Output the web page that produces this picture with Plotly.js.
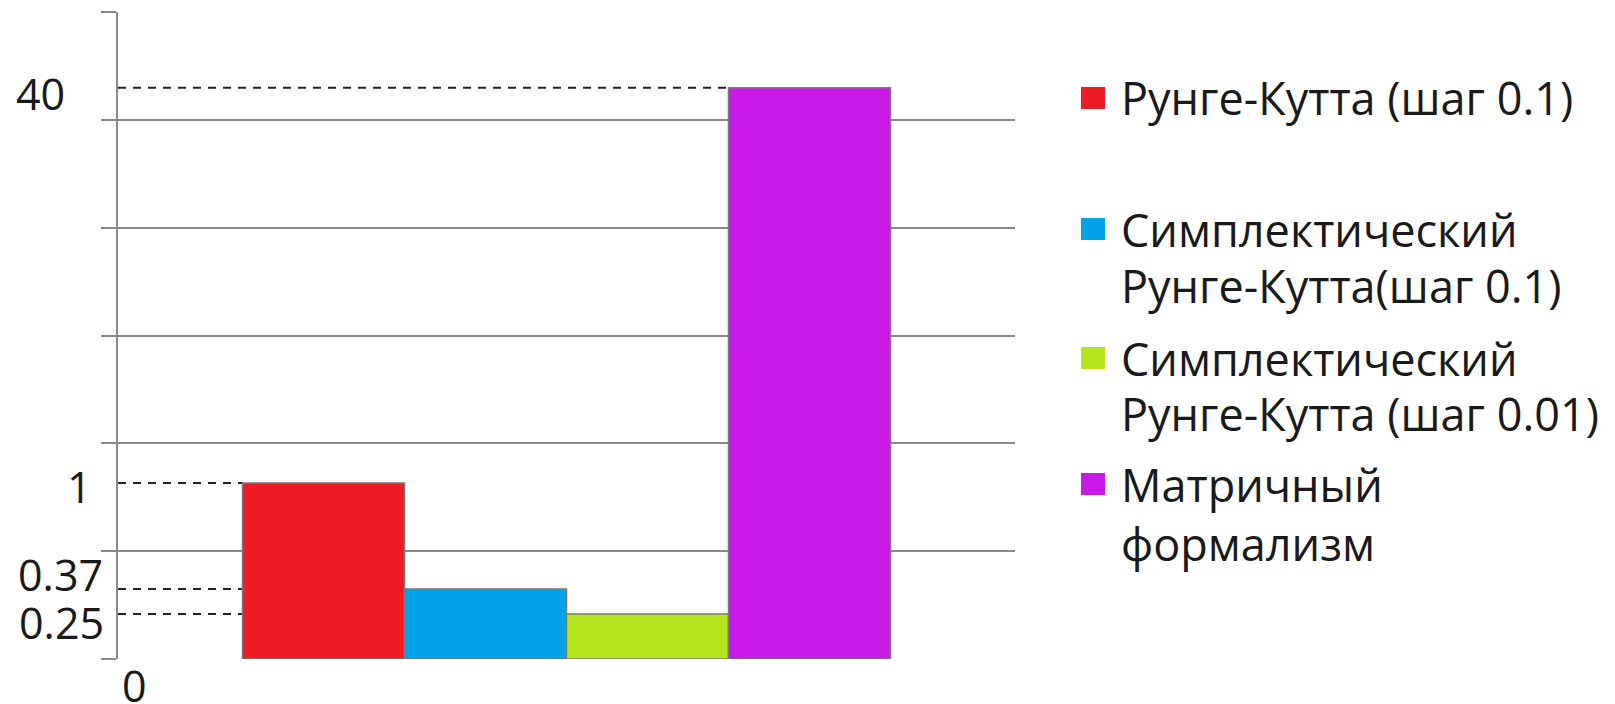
<!DOCTYPE html>
<html>
<head>
<meta charset="utf-8">
<script src="https://cdn.plot.ly/plotly-3.0.1.min.js"></script>
<style>html,body{margin:0;padding:0;background:#fff;}#chart{width:1615px;height:704px;}</style>
</head>
<body>
<div id="chart"></div>
<script>
// ---- data ----
const seriesNames = [
  ["Рунге-Кутта (шаг 0.1)"],
  ["Симплектический", "Рунге-Кутта(шаг 0.1)"],
  ["Симплектический", "Рунге-Кутта (шаг 0.01)"],
  ["Матричный", "формализм"]
];
const seriesValues = [1, 0.37, 0.25, 40];
const seriesColors = ["#ED1C24", "#00A2E8", "#B5E61D", "#C918E8"];
const tickLabels = ["0", "0.25", "0.37", "1", "40"];
const tickValues = [0, 0.25, 0.37, 1, 40];
// broken (non-linear) value axis: height (in gridline units) of each labelled value
const tickLevels = [0, 0.417, 0.649, 1.633, 5.297];

function toLevel(v) {
  for (let i = 1; i < tickValues.length; i++) {
    if (v <= tickValues[i]) {
      const t = (v - tickValues[i - 1]) / (tickValues[i] - tickValues[i - 1]);
      return tickLevels[i - 1] + t * (tickLevels[i] - tickLevels[i - 1]);
    }
  }
  return tickLevels[tickLevels.length - 1];
}

// ---- layout constants ----
const W = 1615, H = 704;
const L = 118, R = 1015, T = 12, B = 659;
const pw = R - L, ph = B - T;
const xRange = [-0.5, 0.5];
const bargap = 0.2776;
const barW = (1 - bargap) / seriesValues.length;
const fontFam = "'Open Sans', 'Noto Sans', sans-serif";
const textColor = "#1a1a1a";
const gridColor = "#8a8a8a";

const traces = seriesValues.map((v, i) => ({
  type: "bar",
  name: seriesNames[i].join(" "),
  x: [0],
  y: [toLevel(v)],
  customdata: [v],
  hovertemplate: "%{customdata}<extra></extra>",
  marker: { color: seriesColors[i], line: { color: "#7a7a7a", width: 1.5 } },
  showlegend: false
}));

// dashed guides from axis to the left edge of each bar
const groupLeft = -(1 - bargap) / 2;
const shapes = seriesValues.map((v, i) => ({
  type: "line", layer: "below",
  xref: "x", yref: "y",
  x0: xRange[0], x1: groupLeft + i * barW,
  y0: toLevel(v), y1: toLevel(v),
  line: { color: "#222", width: 2, dash: "8px,7px" }
}));

// tick labels (placed by hand in the original)
const labelOffsets = {
  "0":    { xanchor: "center", xshift: 16,  yshift: -26 },
  "0.25": { xanchor: "right",  xshift: -12, yshift: -8 },
  "0.37": { xanchor: "right",  xshift: -13, yshift: 15 },
  "1":    { xanchor: "right",  xshift: -24, yshift: -4 },
  "40":   { xanchor: "right",  xshift: -51, yshift: -6 }
};
const annotations = tickLabels.map((t, i) => Object.assign({
  text: t, showarrow: false,
  xref: "paper", x: 0, yref: "y", y: tickLevels[i], yanchor: "middle",
  font: { family: fontFam, size: 43, color: textColor }
}, labelOffsets[t]));

// custom legend (large square swatches), one annotation per text line
const legLineY = [[98], [229, 285], [358, 414], [484, 543]];
const legSwatchX = [1081, 1105];
const legTextX = 1119;
seriesNames.forEach((lines, i) => {
  lines.forEach((line, j) => {
    annotations.push({
      text: line, showarrow: false, align: "left",
      xref: "paper", x: (legTextX - L) / pw, xanchor: "left",
      yref: "paper", y: (B - legLineY[i][j]) / ph, yanchor: "middle",
      font: { family: fontFam, size: 45, color: textColor }
    });
  });
  shapes.push({
    type: "rect", xref: "paper", yref: "paper",
    x0: (legSwatchX[0] - L) / pw, x1: (legSwatchX[1] - L) / pw,
    y0: (B - legLineY[i][0] - 11) / ph, y1: (B - legLineY[i][0] + 11) / ph,
    fillcolor: seriesColors[i], line: { width: 0 }
  });
});

const layout = {
  width: W, height: H,
  margin: { l: L, r: W - R, t: T, b: H - B, pad: 0 },
  paper_bgcolor: "#fff", plot_bgcolor: "#fff",
  barmode: "group", bargap: bargap, bargroupgap: 0,
  showlegend: false,
  xaxis: { range: xRange, showgrid: false, zeroline: false, showticklabels: false, ticks: "", showline: false, fixedrange: true },
  yaxis: {
    range: [0, 6], dtick: 1, tick0: 0,
    showgrid: true, gridcolor: gridColor, gridwidth: 2,
    zeroline: false,
    showline: true, linecolor: gridColor, linewidth: 2,
    ticks: "outside", ticklen: 15, tickwidth: 2, tickcolor: gridColor,
    showticklabels: false, fixedrange: true
  },
  shapes: shapes,
  annotations: annotations
};

Plotly.newPlot("chart", traces, layout, { displayModeBar: false, staticPlot: true });
</script>
</body>
</html>
